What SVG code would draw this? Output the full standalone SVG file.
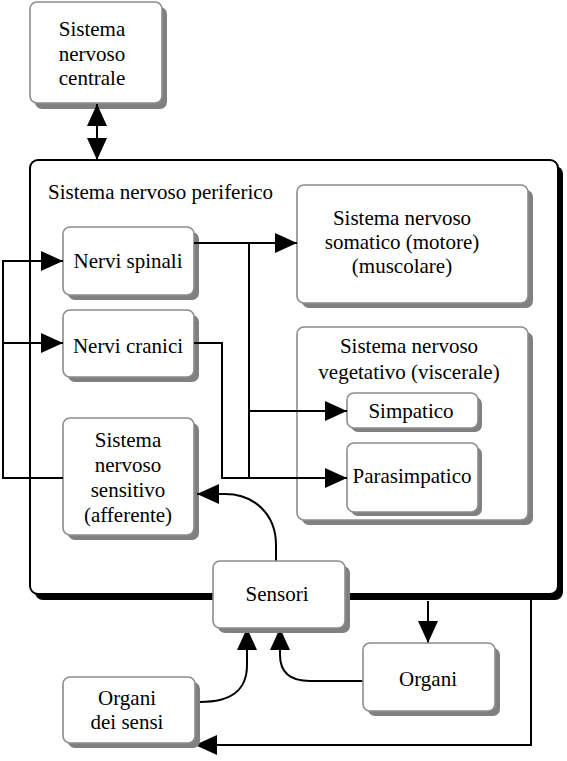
<svg xmlns="http://www.w3.org/2000/svg" width="567" height="761" viewBox="0 0 567 761">
<style>
text{font-family:'Liberation Serif','Times New Roman',serif;font-size:21px;fill:#000}
.t{text-anchor:middle}
.sh{fill:#808080}
.bx{fill:#fff;stroke:#8c8c8c;stroke-width:1.6}
.ln{fill:none;stroke:#000;stroke-width:2}
</style>
<defs>
<marker id="ah" markerUnits="userSpaceOnUse" markerWidth="22" markerHeight="20" refX="22" refY="10" orient="auto-start-reverse" viewBox="0 0 22 20">
<path d="M0,0 L22,10 L0,20 z" fill="#000"/>
</marker>
</defs>
<g id="periferico">
<rect x="35" y="166" width="528" height="434" rx="8" fill="#000"/>
<rect x="30" y="160" width="528" height="434" rx="8" fill="#fff" stroke="#000" stroke-width="2"/>
<text x="48" y="199">Sistema nervoso periferico</text>
</g>
<g id="centrale">
<rect class="sh" x="35" y="7" width="132" height="102" rx="7"/>
<rect class="bx" x="30" y="2" width="132" height="101" rx="7"/>
<text class="t" x="92" y="36">Sistema</text>
<text class="t" x="92" y="61">nervoso</text>
<text class="t" x="92" y="85">centrale</text>
</g>
<g id="spinali">
<rect class="sh" x="68" y="232" width="131" height="68" rx="7"/>
<rect class="bx" x="63" y="227" width="131" height="68" rx="7"/>
<text class="t" x="128" y="268">Nervi spinali</text>
</g>
<g id="cranici">
<rect class="sh" x="68" y="315" width="131" height="67" rx="7"/>
<rect class="bx" x="63" y="310" width="131" height="67" rx="7"/>
<text class="t" x="128" y="353">Nervi cranici</text>
</g>
<g id="sensitivo">
<rect class="sh" x="68" y="423" width="131" height="117" rx="7"/>
<rect class="bx" x="63" y="418" width="131" height="117" rx="7"/>
<text class="t" x="128" y="447">Sistema</text>
<text class="t" x="128" y="472">nervoso</text>
<text class="t" x="128" y="497">sensitivo</text>
<text class="t" x="128" y="522">(afferente)</text>
</g>
<g id="somatico">
<rect class="sh" x="302" y="190" width="231" height="118" rx="7"/>
<rect class="bx" x="297" y="185" width="231" height="118" rx="7"/>
<text class="t" x="402" y="225">Sistema nervoso</text>
<text class="t" x="402" y="249">somatico (motore)</text>
<text class="t" x="402" y="273">(muscolare)</text>
</g>
<g id="vegetativo">
<rect class="sh" x="302" y="332" width="231" height="193" rx="7"/>
<rect class="bx" x="297" y="327" width="231" height="193" rx="7"/>
<text class="t" x="409" y="353">Sistema nervoso</text>
<text class="t" x="409" y="379">vegetativo (viscerale)</text>
</g>
<g id="simpatico">
<rect class="sh" x="351" y="397" width="131" height="35" rx="7"/>
<rect class="bx" x="347" y="393" width="131" height="35" rx="7"/>
<text class="t" x="411" y="418">Simpatico</text>
</g>
<g id="parasimpatico">
<rect class="sh" x="351" y="447" width="131" height="69" rx="7"/>
<rect class="bx" x="347" y="443" width="131" height="69" rx="7"/>
<text class="t" x="412" y="483">Parasimpatico</text>
</g>
<g id="connectors">
<path class="ln" d="M97,104 L97,160" marker-start="url(#ah)" marker-end="url(#ah)"/>
<path class="ln" d="M194,243 L297,243" marker-end="url(#ah)"/>
<path class="ln" d="M249,243 L249,478"/>
<path class="ln" d="M249,411 L347,411" marker-end="url(#ah)"/>
<path class="ln" d="M194,343 L222,343 L222,478 L347,478" marker-end="url(#ah)"/>
<path class="ln" d="M63,478 L3,478 L3,261 L63,261" marker-end="url(#ah)"/>
<path class="ln" d="M3,343 L63,343" marker-end="url(#ah)"/>
<path class="ln" d="M276,561 L276,545 C276,515 255,494 225,494 L197,494" marker-end="url(#ah)"/>
<path class="ln" d="M428,601 L428,643" marker-end="url(#ah)"/>
<path class="ln" d="M531,600 L531,745 L195,745" marker-end="url(#ah)"/>
<path class="ln" d="M200,702 C232,702 247,690 247,665 L247,628" marker-end="url(#ah)"/>
<path class="ln" d="M363,681 L310,681 C290,681 280,672 280,655 L280,628" marker-end="url(#ah)"/>
</g>
<g id="sensori">
<rect class="sh" x="218" y="566" width="132" height="67" rx="7"/>
<rect class="bx" x="213" y="561" width="132" height="67" rx="7"/>
<text class="t" x="277" y="601">Sensori</text>
</g>
<g id="organi">
<rect class="sh" x="368" y="648" width="132" height="68" rx="7"/>
<rect class="bx" x="363" y="643" width="132" height="68" rx="7"/>
<text class="t" x="428" y="686">Organi</text>
</g>
<g id="organi-sensi">
<rect class="sh" x="68" y="682" width="132" height="66" rx="7"/>
<rect class="bx" x="63" y="677" width="132" height="66" rx="7"/>
<text class="t" x="127" y="705">Organi</text>
<text class="t" x="127" y="729">dei sensi</text>
</g>
</svg>
